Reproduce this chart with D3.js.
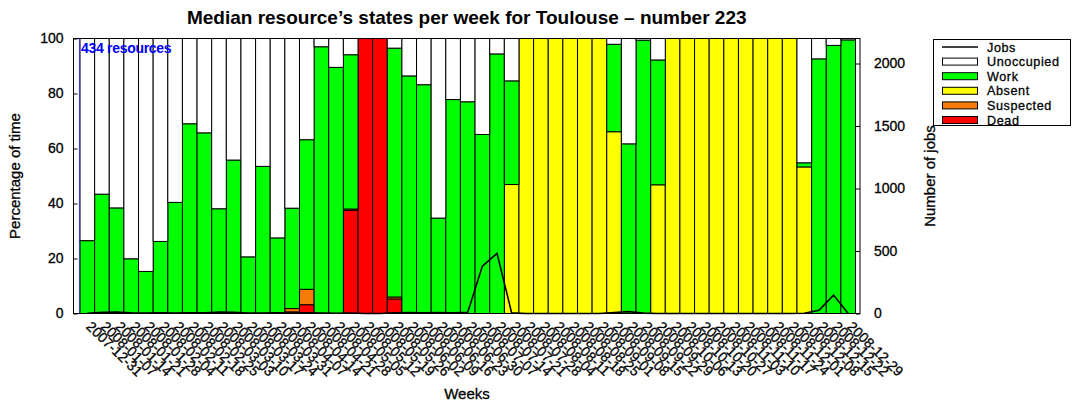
<!DOCTYPE html>
<html>
<head>
<meta charset="utf-8">
<script src="https://cdn.jsdelivr.net/npm/d3@7/dist/d3.min.js"></script>
<style>
  html, body { margin: 0; padding: 0; background: #fff; }
  svg { display: block; font-family: "Liberation Sans", Arial, Helvetica, sans-serif; }
  .heavy { stroke: #000; stroke-width: 0.3px; paint-order: stroke; }
</style>
</head>
<body>
<svg id="chart" width="1072" height="405"></svg>
<script>
// Weekly buckets (Monday of each week)
const weeks = [
  "2007-12-31","2008-01-07","2008-01-14","2008-01-21","2008-01-28","2008-02-04","2008-02-11",
  "2008-02-18","2008-02-25","2008-03-03","2008-03-10","2008-03-17","2008-03-24","2008-03-31",
  "2008-04-07","2008-04-14","2008-04-21","2008-04-28","2008-05-05","2008-05-12","2008-05-19",
  "2008-05-26","2008-06-02","2008-06-09","2008-06-16","2008-06-23","2008-06-30","2008-07-07",
  "2008-07-14","2008-07-21","2008-07-28","2008-08-04","2008-08-11","2008-08-18","2008-08-25",
  "2008-09-01","2008-09-08","2008-09-15","2008-09-22","2008-09-29","2008-10-06","2008-10-13",
  "2008-10-20","2008-10-27","2008-11-03","2008-11-10","2008-11-17","2008-11-24","2008-12-01",
  "2008-12-08","2008-12-15","2008-12-22","2008-12-29"
];

// Percentage of time spent in each state (stacked bottom to top: dead, suspected, absent, work, unoccupied)
const dead = [
  0,0,0,0,0,0,0,0,0,0,0,0,0,0,0.6,3.2,0,0,37.5,100,100,5.3,0,0,0,0,0,0,0,0,
  0,0,0,0,0,0,0,0,0,0,0,0,0,0,0,0,0,0,0,0,0,0,0
];
const suspected = [
  0,0,0,0,0,0,0,0,0,0,0,0,0,0,1.2,5.6,0,0,0.5,0,0,0.7,0,0,0,0,0,0,0,0,
  0,0,0,0,0,0,0,0,0,0,0,0,0,0,0,0,0,0,0,0,0,0,0
];
const absent = [
  0,0,0,0,0,0,0,0,0,0,0,0,0,0,0,0,0,0,0,0,0,0,0,0,0,0,0,0,0,46.9,
  100,100,100,100,100,100,66.1,0,0,46.8,100,100,100,100,100,100,100,100,100,53.3,0,0,0
];
const work = [
  26.5,43.4,38.4,19.9,15.3,26.2,40.4,69.0,65.7,38.1,55.8,20.6,53.5,27.5,36.5,54.4,97.0,89.5,56.1,0,
  0,90.5,86.4,83.2,34.7,77.8,77.0,65.1,94.4,37.7,0,0,0,0,0,0,31.8,61.7,99.4,45.4,
  0,0,0,0,0,0,0,0,0,1.5,92.6,97.5,99.5
];
const unoccupied = [
  73.5,56.6,61.6,80.1,84.7,73.8,59.6,31.0,34.3,61.9,44.2,79.4,46.5,72.5,61.7,36.8,3.0,10.5,5.9,0,
  0,3.5,13.6,16.8,65.3,22.2,23.0,34.9,5.6,15.4,0,0,0,0,0,0,2.1,38.3,0.6,7.8,
  0,0,0,0,0,0,0,0,0,45.2,7.4,2.5,0.5
];

// Number of jobs per week (right axis)
const jobs = [
  2,10,12,6,4,5,3,5,6,12,10,4,3,5,4,6,3,2,4,0,0,6,8,5,8,6,10,379,481,5,
  0,0,0,0,0,0,8,15,3,0,0,0,0,0,0,0,0,0,0,2,26,147,0
];

const leftTicks = [0, 20, 40, 60, 80, 100];
const rightTicks = [0, 500, 1000, 1500, 2000];

const stateNames = ["Dead", "Suspected", "Absent", "Work", "Unoccupied"];
const stateColors = {
  Dead: "#ff0000",
  Suspected: "#f77b07",
  Absent: "#ffff00",
  Work: "#00ff00",
  Unoccupied: "#ffffff"
};
const stateValues = { Dead: dead, Suspected: suspected, Absent: absent, Work: work, Unoccupied: unoccupied };

// Layout
const plot = { left: 73.5, right: 860, top: 38.5, bottom: 313.5 };
const svg = d3.select("#chart");
const font = '"Liberation Sans", Arial, Helvetica, sans-serif';

const x = d3.scaleBand().domain(weeks).range([80, 855.5]).paddingInner(0).paddingOuter(0);
const y = d3.scaleLinear().domain([0, 100]).range([plot.bottom, plot.top]);
const y2 = d3.scaleLinear().domain([0, 2200]).range([plot.bottom, plot.top]);

// Stack the states per week
const rows = weeks.map((w, i) => {
  const r = { week: w };
  stateNames.forEach(s => { r[s] = stateValues[s][i]; });
  return r;
});
const series = d3.stack().keys(stateNames)(rows);

const layers = svg.append("g").attr("class", "bars");
series.forEach(layer => {
  layers.append("g")
    .attr("fill", stateColors[layer.key])
    .selectAll("rect")
    .data(layer.filter(d => d[1] - d[0] > 0))
    .join("rect")
      .attr("x", d => x(d.data.week))
      .attr("width", x.bandwidth())
      .attr("y", d => y(d[1]))
      .attr("height", d => y(d[0]) - y(d[1]))
      .attr("stroke", "#000")
      .attr("stroke-width", 1);
});

// Plot frame
svg.append("rect")
  .attr("x", plot.left).attr("y", plot.top)
  .attr("width", plot.right - plot.left).attr("height", plot.bottom - plot.top)
  .attr("fill", "none").attr("stroke", "#000").attr("stroke-width", 1);

// Resource count marker
svg.append("line")
  .attr("x1", x(weeks[0]) - 0.5).attr("x2", x(weeks[0]) - 0.5)
  .attr("y1", plot.top).attr("y2", plot.bottom)
  .attr("stroke", "#0000ff").attr("stroke-width", 1.2).attr("stroke-dasharray", "1,1");
svg.append("text")
  .attr("x", 81).attr("y", 53)
  .attr("fill", "#0000ff").attr("font-size", 14).attr("font-weight", "bold")
  .attr("font-family", font).attr("letter-spacing", "-0.3")
  .text("434 resources");

// Jobs line
const line = d3.line()
  .x((d, i) => x(weeks[i]) + x.bandwidth() / 2)
  .y(d => y2(d));
svg.append("path")
  .datum(jobs)
  .attr("d", line)
  .attr("fill", "none").attr("stroke", "#000").attr("stroke-width", 1.6);

// Left axis
const leftAxis = d3.axisLeft(y).tickValues(leftTicks).tickSize(-4).tickPadding(10);
const gl = svg.append("g").attr("transform", `translate(${plot.left},0)`).call(leftAxis);
gl.select(".domain").remove();
gl.selectAll("text").attr("font-size", 14).attr("font-family", font).attr("fill", "#000").attr("class", "heavy");
gl.selectAll("line").attr("stroke", "#000");

// Right axis
const rightAxis = d3.axisRight(y2).tickValues(rightTicks).tickFormat(d3.format("d")).tickSize(-4).tickPadding(14);
const gr = svg.append("g").attr("transform", `translate(${plot.right},0)`).call(rightAxis);
gr.select(".domain").remove();
gr.selectAll("text").attr("font-size", 14).attr("font-family", font).attr("fill", "#000").attr("class", "heavy");
gr.selectAll("line").attr("stroke", "#000");

// Week labels, rotated
const gx = svg.append("g");
gx.selectAll("text")
  .data(weeks)
  .join("text")
    .attr("class", "heavy")
    .attr("transform", d => `translate(${x(d) + x.bandwidth() / 2 - 2},${plot.bottom + 14}) rotate(44)`)
    .attr("font-size", 14).attr("font-family", font).attr("fill", "#000")
    .text(d => d);

// Titles
svg.append("text")
  .attr("x", (plot.left + plot.right) / 2).attr("y", 24)
  .attr("text-anchor", "middle").attr("font-size", 19).attr("font-weight", "bold")
  .attr("font-family", font)
  .text("Median resource\u2019s states per week for Toulouse \u2013 number 223");

svg.append("text")
  .attr("class", "heavy")
  .attr("transform", `translate(20,${(plot.top + plot.bottom) / 2}) rotate(-90)`)
  .attr("text-anchor", "middle").attr("font-size", 15).attr("font-family", font)
  .text("Percentage of time");

svg.append("text")
  .attr("class", "heavy")
  .attr("transform", `translate(935,${(plot.top + plot.bottom) / 2}) rotate(-90)`)
  .attr("text-anchor", "middle").attr("font-size", 15).attr("font-family", font)
  .text("Number of jobs");

svg.append("text")
  .attr("class", "heavy")
  .attr("x", 467).attr("y", 399)
  .attr("text-anchor", "middle").attr("font-size", 15).attr("font-family", font)
  .text("Weeks");

// Legend
const legendItems = ["Jobs", "Unoccupied", "Work", "Absent", "Suspected", "Dead"];
const legendStep = 14.6;
const legend = svg.append("g");
legend.append("rect")
  .attr("x", 933.5).attr("y", 39.5).attr("width", 137).attr("height", 86)
  .attr("fill", "#fff").attr("stroke", "#000").attr("stroke-width", 1);
legendItems.forEach((name, i) => {
  const cy = 47 + i * legendStep;
  if (name === "Jobs") {
    legend.append("line")
      .attr("x1", 942).attr("x2", 978).attr("y1", cy).attr("y2", cy)
      .attr("stroke", "#000").attr("stroke-width", 1.6);
  } else {
    legend.append("rect")
      .attr("x", 942.5).attr("y", cy - 3.5).attr("width", 35).attr("height", 7)
      .attr("fill", stateColors[name]).attr("stroke", "#000").attr("stroke-width", 1);
  }
  legend.append("text")
    .attr("class", "heavy")
    .attr("x", 987).attr("y", cy + 4.5)
    .attr("font-size", 12.6).attr("font-family", font)
    .attr("letter-spacing", "0.6")
    .text(name);
});
</script>
</body>
</html>
